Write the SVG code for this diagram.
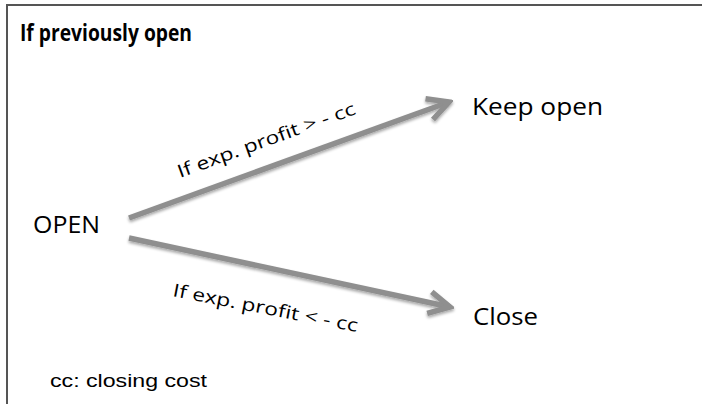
<svg xmlns="http://www.w3.org/2000/svg" width="702" height="404" viewBox="0 0 702 404">
<style>
.frame{stroke:#555;stroke-width:2;fill:none}
.t{font-family:"Open Sans","Noto Sans","Liberation Sans",sans-serif;fill:#000}
.node{font-size:24px}
.lab{font-size:18px}
.conn{stroke:#8f8f8f;stroke-width:5.5;fill:none;stroke-linecap:butt;filter:url(#sh)}
</style>
<defs>
<filter id="sh" x="-20%" y="-50%" width="140%" height="200%">
<feGaussianBlur in="SourceAlpha" stdDeviation="1.5"/>
<feOffset dx="0" dy="2" result="b"/>
<feComponentTransfer><feFuncA type="linear" slope="0.35"/></feComponentTransfer>
<feMerge><feMergeNode/><feMergeNode in="SourceGraphic"/></feMerge>
</filter>
<marker id="ah" markerUnits="userSpaceOnUse" viewBox="-26 -16 30 32" markerWidth="30" markerHeight="32" refX="0" refY="0" orient="auto">
<path d="M-21,-11 L0,0 L-21,11" fill="none" stroke="#8f8f8f" stroke-width="5.5" stroke-linejoin="miter"/>
</marker>
</defs>
<rect width="702" height="404" fill="#fff"/>
<path class="frame" d="M7,404 V5 H702"/>
<g id="title"><text class="t" x="20" y="41" font-size="23" font-weight="bold" textLength="172" lengthAdjust="spacingAndGlyphs">If previously open</text></g>
<g id="connectors">
<g id="e-keep">
<line class="conn" x1="129" y1="218" x2="449" y2="102" marker-end="url(#ah)"/>
<text class="t lab" transform="translate(180,178) rotate(-20)" textLength="188" lengthAdjust="spacingAndGlyphs">If exp. profit &gt; - cc</text>
</g>
<g id="e-close">
<line class="conn" x1="129" y1="238" x2="450" y2="307" marker-end="url(#ah)"/>
<text class="t lab" transform="translate(172,296) rotate(11)" textLength="188" lengthAdjust="spacingAndGlyphs">If exp. profit &lt; - cc</text>
</g>
</g>
<g id="n-open"><text class="t node" x="33" y="233" textLength="67" lengthAdjust="spacingAndGlyphs">OPEN</text></g>
<g id="n-keep"><text class="t node" x="472" y="115" textLength="131" lengthAdjust="spacingAndGlyphs">Keep open</text></g>
<g id="n-close"><text class="t node" x="473" y="325" textLength="65" lengthAdjust="spacingAndGlyphs">Close</text></g>
<g id="legend"><text x="50" y="387" font-family="Liberation Sans, Arial, sans-serif" font-size="18" textLength="157" lengthAdjust="spacingAndGlyphs">cc: closing cost</text></g>
</svg>
